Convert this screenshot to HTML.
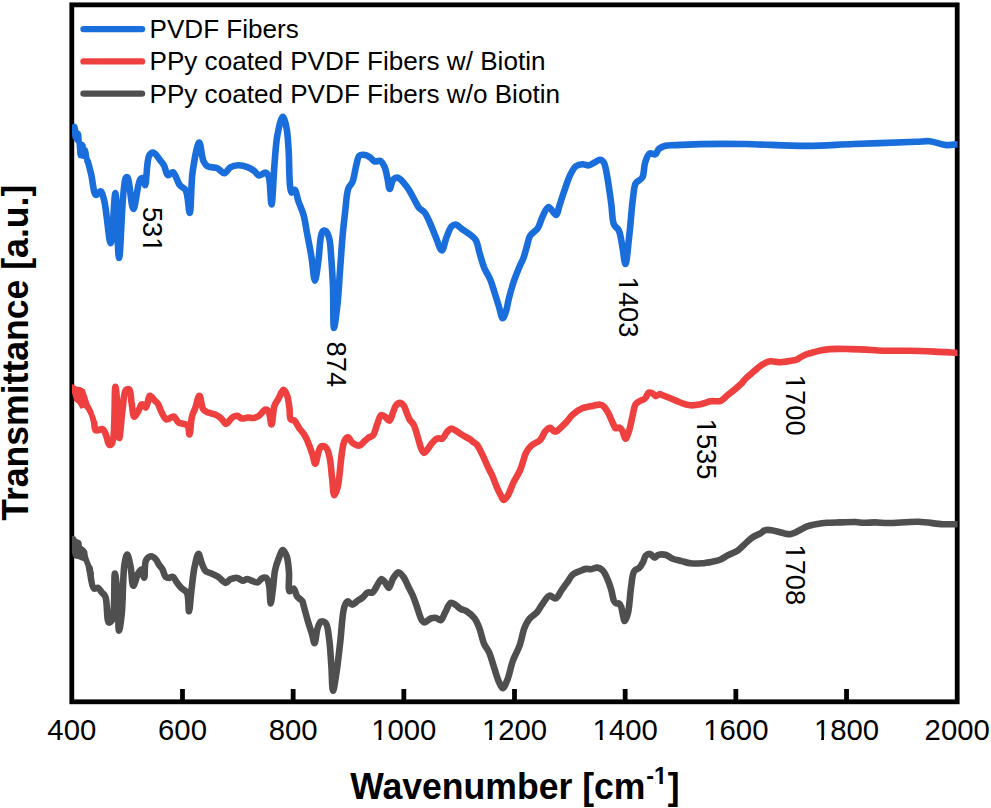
<!DOCTYPE html>
<html><head><meta charset="utf-8"><style>
html,body{margin:0;padding:0;background:#fff;}
body{width:991px;height:808px;overflow:hidden;}
svg{display:block;}
text{font-family:"Liberation Sans",sans-serif;}
.tk{font-size:29.3px;}
.lg{font-size:26.1px;}
.an{font-size:27.3px;}
.ax{font-size:35.6px;font-weight:bold;}
</style></head><body>
<svg width="991" height="808" viewBox="0 0 991 808">
<rect width="991" height="808" fill="#fff"/>
<rect x="71.80" y="4.85" width="885.40" height="696.95" fill="none" stroke="#000" stroke-width="4.8"/>
<line x1="182.48" y1="701.80" x2="182.48" y2="689" stroke="#000" stroke-width="4.8"/><line x1="293.15" y1="701.80" x2="293.15" y2="689" stroke="#000" stroke-width="4.8"/><line x1="403.83" y1="701.80" x2="403.83" y2="689" stroke="#000" stroke-width="4.8"/><line x1="514.50" y1="701.80" x2="514.50" y2="689" stroke="#000" stroke-width="4.8"/><line x1="625.17" y1="701.80" x2="625.17" y2="689" stroke="#000" stroke-width="4.8"/><line x1="735.85" y1="701.80" x2="735.85" y2="689" stroke="#000" stroke-width="4.8"/><line x1="846.53" y1="701.80" x2="846.53" y2="689" stroke="#000" stroke-width="4.8"/>
<defs><clipPath id="pc"><rect x="71.5" y="0" width="886.1" height="808"/></clipPath></defs>
<g clip-path="url(#pc)">
<g fill="none" stroke-linejoin="round" stroke-linecap="round" stroke-width="6.6">
<path d="M89.5,568.0 C90.2,571.4 91.3,586.8 93.9,588.5 C95.0,589.3 96.7,587.4 97.9,587.8 C99.4,588.4 100.7,591.1 102.0,592.6 C103.2,594.0 104.5,594.5 105.4,596.7 C107.5,601.5 106.5,621.6 108.8,622.5 C109.7,622.9 111.3,621.6 112.2,619.8 C115.2,613.9 113.8,573.5 114.9,573.5 C115.7,573.5 117.0,589.2 117.7,598.0 C118.5,608.1 118.1,630.6 119.0,630.7 C119.7,630.7 120.9,621.4 121.7,614.4 C123.0,602.2 122.8,574.1 124.5,564.0 C125.3,559.5 126.3,554.5 127.2,554.5 C128.3,554.5 129.6,562.1 130.6,566.7 C131.8,572.3 131.8,585.6 133.3,585.8 C134.5,585.9 136.4,576.4 138.1,573.5 C139.2,571.7 140.6,569.3 141.5,569.5 C142.7,569.7 143.5,577.7 144.2,577.6 C145.2,577.5 144.1,563.6 146.1,560.1 C147.3,558.0 149.4,556.3 151.1,556.2 C152.6,556.1 154.3,557.7 155.6,559.0 C157.0,560.4 157.7,562.8 158.9,564.5 C160.0,566.1 161.3,567.2 162.3,569.0 C163.6,571.2 164.1,575.4 165.6,576.8 C166.6,577.7 167.8,577.9 169.0,577.9 C170.3,577.9 171.7,576.4 172.9,576.8 C174.4,577.3 175.4,580.6 176.8,582.4 C178.2,584.3 179.5,586.2 181.2,587.9 C182.9,589.6 185.5,590.0 186.8,592.4 C189.0,596.3 188.3,611.3 189.0,611.3 C189.7,611.3 190.4,599.2 191.2,592.4 C192.2,584.5 193.1,573.8 194.6,566.8 C195.7,561.7 197.2,553.9 198.5,553.9 C199.6,553.9 200.5,560.4 201.8,563.4 C203.0,566.2 203.9,569.5 205.7,571.2 C207.2,572.6 209.4,572.5 211.3,573.4 C213.5,574.4 215.8,575.4 218.0,576.8 C220.6,578.4 223.7,582.9 225.8,582.9 C227.3,582.9 228.4,580.3 229.7,579.6 C230.7,579.0 231.7,578.8 232.8,578.5 C234.1,578.2 235.8,577.6 237.3,577.9 C239.1,578.2 241.0,580.6 242.8,580.7 C244.4,580.8 245.7,579.0 247.3,579.0 C249.0,579.0 251.0,580.6 252.8,581.2 C254.5,581.7 256.4,582.8 257.9,582.4 C259.4,582.0 260.3,579.2 261.8,578.5 C263.1,577.8 265.1,577.2 266.2,577.9 C267.7,578.7 268.3,581.7 269.0,584.6 C270.1,589.2 270.0,603.5 270.7,603.5 C271.3,603.5 272.2,594.2 272.9,589.0 C273.7,583.1 274.0,575.5 275.1,570.1 C276.0,565.9 277.1,562.5 278.5,559.0 C279.8,555.8 281.4,550.1 282.9,550.0 C284.2,550.0 285.8,553.9 286.8,556.7 C288.2,560.7 288.5,566.8 289.0,572.3 C289.5,578.3 287.8,590.4 289.6,591.3 C290.5,591.7 292.4,588.2 293.5,588.5 C295.1,588.9 295.8,594.6 297.4,596.8 C298.8,598.7 301.3,599.5 302.4,601.3 C303.4,603.0 303.3,604.7 304.0,607.0 C305.0,610.7 306.6,616.8 308.0,621.5 C309.3,625.9 310.9,630.5 312.1,634.4 C313.0,637.6 313.7,643.2 314.5,643.2 C315.6,643.2 316.3,631.8 317.7,627.9 C318.6,625.2 319.4,622.1 320.9,621.5 C322.2,621.0 324.5,621.7 325.8,623.1 C327.9,625.5 328.1,631.9 329.0,637.6 C330.2,645.6 330.7,657.4 331.4,666.6 C332.0,675.0 332.0,690.6 333.0,690.7 C333.8,690.8 335.2,680.9 336.2,674.6 C337.6,665.7 338.9,653.4 340.2,642.4 C341.6,630.9 342.1,613.6 344.3,607.0 C345.2,604.2 346.1,601.7 347.5,601.4 C348.8,601.1 350.6,604.6 352.3,604.6 C354.1,604.6 356.1,601.8 357.9,600.6 C359.6,599.5 361.2,598.7 362.8,597.4 C364.5,596.0 365.8,593.2 367.6,592.5 C369.1,591.9 370.9,593.3 372.4,592.5 C374.6,591.3 376.6,585.9 378.3,583.4 C379.5,581.6 380.5,579.1 381.7,579.0 C382.8,578.9 383.9,581.0 385.0,582.3 C386.3,583.9 387.7,588.0 388.9,587.9 C390.3,587.8 391.2,581.7 392.8,579.0 C394.4,576.5 396.5,572.4 398.4,572.3 C400.2,572.2 402.4,575.6 404.0,577.8 C405.8,580.3 406.9,583.8 408.4,586.8 C409.9,589.8 411.5,592.5 412.9,595.7 C414.5,599.4 415.8,603.8 417.3,607.9 C418.8,612.0 420.1,617.9 421.8,620.2 C422.7,621.4 423.5,622.3 424.6,622.4 C426.2,622.5 428.6,619.2 430.7,618.5 C432.5,617.9 434.6,617.6 436.3,617.9 C437.9,618.2 439.4,620.6 440.7,620.2 C442.5,619.7 443.6,615.1 445.2,612.4 C446.9,609.4 448.6,603.6 450.7,602.9 C452.1,602.4 453.7,603.7 455.2,604.6 C457.0,605.6 458.8,607.9 460.8,609.0 C462.6,610.0 464.5,609.9 466.4,611.1 C469.0,612.7 472.3,615.5 474.5,618.3 C476.6,621.1 477.8,624.3 479.3,628.0 C481.1,632.6 482.3,639.8 484.2,644.1 C485.6,647.3 487.6,648.9 489.0,652.1 C490.9,656.1 492.2,661.8 493.8,666.6 C495.4,671.4 496.9,677.2 498.6,681.1 C499.9,684.0 501.3,688.3 502.7,688.3 C504.2,688.3 506.0,683.1 507.5,679.5 C509.6,674.4 510.9,666.1 513.1,660.2 C515.0,654.9 517.8,650.9 519.6,645.7 C521.6,640.2 522.5,632.8 524.4,628.0 C525.8,624.4 527.1,621.7 529.2,619.1 C531.4,616.4 535.1,614.5 537.3,611.9 C539.3,609.6 540.2,607.1 542.1,604.6 C544.2,601.7 546.9,596.3 549.5,595.7 C551.5,595.2 553.7,598.9 555.6,598.4 C557.9,597.8 559.7,592.8 561.7,590.1 C563.6,587.5 565.4,584.9 567.3,582.3 C569.1,579.7 570.6,576.4 572.8,574.5 C574.7,572.8 577.2,572.1 579.5,571.2 C581.7,570.3 584.2,569.1 586.2,568.9 C587.8,568.7 588.9,569.4 590.5,569.3 C592.5,569.1 595.3,567.4 597.4,567.6 C599.3,567.8 601.1,568.9 602.6,570.3 C604.4,572.0 605.5,574.8 606.8,577.6 C608.4,581.0 609.9,585.3 611.1,589.2 C612.3,593.1 612.7,598.6 614.0,601.0 C614.7,602.3 615.6,603.1 616.5,603.5 C617.3,603.8 618.5,603.1 619.2,603.5 C620.1,604.0 620.7,605.6 621.2,607.0 C622.0,609.0 622.2,612.1 622.8,614.5 C623.4,616.8 623.9,621.0 624.7,621.0 C625.6,621.0 627.0,616.8 627.9,613.4 C629.5,607.3 629.9,594.7 631.1,587.1 C632.0,581.1 632.1,574.5 634.2,571.3 C635.5,569.3 638.0,569.1 639.5,567.6 C641.0,566.0 642.1,563.8 643.2,561.8 C644.2,559.8 644.5,556.8 645.8,555.5 C646.9,554.4 648.6,553.7 650.0,553.9 C651.6,554.1 653.2,557.6 654.7,557.6 C656.0,557.6 656.8,555.4 658.4,554.9 C660.4,554.3 663.7,554.3 666.1,555.0 C668.5,555.7 670.3,557.8 672.7,558.8 C675.4,559.9 678.6,560.3 681.6,561.1 C684.6,561.8 687.3,562.9 690.5,563.3 C694.0,563.7 697.9,563.6 701.6,563.3 C705.3,563.0 709.5,562.2 712.7,561.6 C715.2,561.1 717.1,560.9 719.4,560.0 C722.2,558.9 725.1,556.8 728.1,555.2 C731.2,553.6 735.0,552.3 737.8,550.4 C740.3,548.7 741.9,546.7 744.2,544.7 C746.7,542.4 749.5,539.3 752.3,537.4 C754.9,535.6 758.1,534.7 760.4,533.4 C762.2,532.3 763.4,530.7 765.2,530.2 C767.1,529.6 769.6,529.9 771.7,530.2 C773.9,530.5 776.0,531.3 778.1,531.8 C780.3,532.3 782.5,533.0 784.6,533.4 C786.5,533.8 788.3,534.4 790.2,534.2 C792.1,534.0 794.1,533.0 795.9,532.2 C797.7,531.4 799.2,530.4 801.0,529.5 C802.9,528.5 804.7,527.3 807.1,526.4 C810.1,525.3 814.2,524.6 817.6,524.0 C820.9,523.4 823.9,523.1 827.3,522.8 C831.1,522.5 835.1,522.5 839.4,522.4 C844.4,522.3 851.1,521.8 855.5,522.0 C858.7,522.1 860.7,522.7 863.6,522.8 C867.1,522.9 871.0,522.4 875.0,522.4 C879.3,522.4 883.0,523.0 888.4,523.0 C896.5,523.0 909.2,521.5 918.7,521.8 C927.2,522.1 935.6,523.8 942.9,524.2 C948.8,524.5 956.3,524.2 959.0,524.2" stroke="#4f4f4f"/>
<path d="M94.2,423.0 C94.4,424.2 94.5,429.3 95.6,430.2 C96.2,430.7 97.2,430.3 98.1,430.2 C99.4,430.0 101.3,428.6 102.5,429.1 C104.0,429.7 104.9,432.4 105.9,434.6 C107.2,437.4 107.7,444.0 109.2,444.7 C110.0,445.1 111.2,444.6 112.0,443.5 C115.5,438.5 114.2,386.7 115.4,386.7 C116.1,386.7 117.0,401.1 117.6,409.0 C118.3,418.0 118.5,438.0 119.3,438.0 C120.1,438.0 121.4,417.6 122.6,409.0 C123.6,402.0 123.7,392.2 125.9,390.0 C126.8,389.1 128.4,388.9 129.3,389.5 C131.0,390.7 130.7,397.9 131.5,402.3 C132.4,407.0 132.8,416.5 134.3,416.8 C135.3,417.0 137.0,413.2 138.2,411.2 C139.4,409.1 140.4,405.1 141.5,404.5 C142.0,404.2 142.5,404.4 143.0,404.7 C143.9,405.1 145.0,407.8 145.9,407.6 C147.5,407.2 148.2,396.1 149.9,395.7 C151.1,395.4 152.6,398.4 153.9,399.7 C155.2,401.0 156.6,402.0 157.8,403.7 C159.4,406.0 160.2,409.9 161.8,412.6 C163.2,415.1 164.6,418.9 166.7,419.5 C168.7,420.0 171.7,416.0 173.7,416.5 C175.7,417.0 176.7,421.3 178.6,422.5 C180.1,423.5 182.0,423.5 183.6,424.0 C185.0,424.5 186.5,424.3 187.5,425.4 C188.9,427.0 188.9,434.4 189.5,434.4 C190.4,434.4 190.7,421.4 192.0,416.5 C192.9,413.0 194.3,410.8 195.4,407.6 C196.7,403.9 198.1,395.7 199.4,395.7 C200.8,395.7 201.3,406.8 203.4,409.6 C204.7,411.3 206.5,411.8 208.3,412.6 C210.3,413.5 213.0,413.6 215.2,414.6 C217.3,415.6 219.4,416.9 221.2,418.5 C223.0,420.1 224.6,424.0 226.1,424.0 C227.3,424.0 228.5,421.7 229.6,420.5 C230.7,419.3 231.5,417.8 232.9,417.0 C234.3,416.2 236.4,415.7 237.9,416.0 C239.3,416.3 240.3,418.2 241.8,418.5 C243.5,418.9 245.8,417.6 247.8,417.5 C249.8,417.4 251.8,418.3 253.7,418.0 C255.5,417.7 257.0,417.1 258.7,416.0 C260.9,414.6 263.7,409.8 265.6,409.6 C266.8,409.5 267.8,410.4 268.6,411.6 C270.2,413.9 270.6,424.5 271.5,424.5 C272.6,424.5 272.9,410.2 274.5,405.6 C275.6,402.6 277.1,401.2 278.5,398.7 C280.1,395.9 281.8,389.9 283.4,389.8 C284.6,389.7 286.0,392.6 286.9,394.8 C288.3,398.0 288.7,403.4 289.4,407.6 C290.0,411.6 289.3,417.7 290.8,419.5 C291.6,420.5 293.2,419.7 294.3,420.5 C296.1,421.8 297.6,426.0 299.3,428.4 C300.9,430.6 302.9,432.3 304.2,434.4 C305.4,436.3 306.1,437.9 307.2,440.3 C308.8,444.0 311.1,450.1 312.5,454.4 C313.6,457.9 314.3,463.9 315.2,463.9 C316.3,463.9 317.4,454.9 318.6,451.7 C319.5,449.5 319.9,446.9 321.3,446.3 C322.5,445.7 324.8,446.4 326.1,447.6 C327.9,449.3 328.6,453.2 329.5,457.1 C330.9,462.8 331.3,472.2 332.2,478.9 C332.9,484.7 333.1,495.0 334.3,495.2 C335.2,495.3 336.7,490.8 337.7,487.1 C339.6,479.9 340.3,462.9 341.7,454.4 C342.6,448.9 342.9,443.7 344.5,440.8 C345.4,439.1 346.7,437.4 347.9,437.4 C349.4,437.5 350.7,441.5 352.6,442.9 C354.5,444.3 357.3,446.0 359.4,445.6 C361.4,445.2 363.2,442.3 364.9,440.8 C366.4,439.6 367.6,438.3 369.0,437.4 C370.3,436.6 371.9,436.7 373.0,435.4 C374.9,433.3 375.7,428.0 377.1,424.5 C378.4,421.2 379.4,415.7 381.2,415.0 C382.3,414.6 383.8,415.9 385.0,416.7 C386.5,417.7 388.2,421.0 389.4,420.7 C390.9,420.4 391.8,415.4 392.9,412.8 C393.9,410.4 394.5,407.5 395.8,405.8 C396.9,404.4 398.5,402.9 399.8,402.9 C401.1,402.9 402.7,404.4 403.8,405.8 C405.1,407.5 405.7,410.5 406.7,412.8 C407.7,415.1 408.5,417.7 409.7,419.7 C410.8,421.6 412.5,422.6 413.7,424.7 C415.3,427.7 416.3,432.5 417.6,436.5 C418.9,440.7 420.2,446.5 421.6,449.4 C422.4,451.0 423.2,452.8 424.1,452.9 C425.1,453.0 426.3,450.8 427.5,449.4 C429.1,447.5 430.7,444.4 432.5,442.5 C434.0,440.9 435.6,439.1 437.4,438.5 C439.0,437.9 440.9,439.3 442.4,438.5 C444.3,437.5 445.6,433.3 447.3,431.6 C448.6,430.3 449.8,428.7 451.3,428.6 C453.0,428.4 455.3,430.5 457.2,431.6 C459.2,432.8 461.1,434.2 463.2,435.5 C465.5,436.9 468.8,438.4 470.4,439.5 C471.3,440.1 471.4,440.6 472.2,441.2 C473.3,442.2 475.3,442.9 476.7,444.5 C478.7,446.8 480.5,451.0 482.3,454.5 C484.2,458.3 486.0,463.1 487.8,466.8 C489.3,470.0 490.9,472.5 492.3,475.7 C493.9,479.2 495.2,483.4 496.7,486.8 C498.0,489.8 499.3,492.6 500.6,495.0 C501.6,496.9 502.4,499.9 503.6,500.0 C504.8,500.1 506.3,497.7 507.6,495.8 C509.7,492.7 511.4,486.7 513.5,482.4 C515.6,478.2 518.4,474.1 520.1,470.1 C521.6,466.7 522.5,463.1 523.5,460.1 C524.4,457.5 524.7,455.3 525.9,453.0 C527.2,450.5 529.0,447.7 531.3,445.6 C533.7,443.3 537.9,442.4 540.2,440.0 C542.5,437.6 543.4,433.4 545.3,431.3 C546.8,429.7 548.6,427.8 550.1,427.9 C551.5,428.0 553.0,430.9 554.2,431.3 C555.0,431.6 555.6,431.6 556.4,431.3 C557.5,430.9 558.7,429.6 560.0,428.4 C561.8,426.8 564.0,424.6 566.1,422.4 C568.4,419.9 570.4,416.6 573.1,414.3 C575.8,411.9 579.1,409.6 582.2,408.3 C584.9,407.1 587.4,406.9 590.3,406.3 C593.5,405.7 598.0,404.3 600.4,404.7 C601.9,404.9 602.7,405.5 603.8,406.5 C605.4,407.9 606.9,410.7 608.4,413.3 C610.2,416.5 612.2,421.8 613.5,424.5 C614.3,426.1 614.5,427.7 615.5,428.2 C616.5,428.7 618.4,427.2 619.5,427.6 C620.6,428.0 621.4,429.2 622.2,430.5 C623.5,432.5 624.4,438.8 625.5,438.8 C626.6,438.8 627.9,434.1 629.0,431.0 C630.4,426.7 631.5,420.1 632.7,415.3 C633.7,411.3 634.0,406.6 635.7,404.2 C636.8,402.5 638.6,401.8 640.0,401.0 C641.2,400.3 642.5,400.1 643.5,399.5 C644.3,399.0 644.8,398.6 645.5,397.8 C646.6,396.6 647.4,393.2 648.8,392.6 C649.9,392.1 651.6,393.0 652.8,393.6 C654.0,394.2 654.8,396.0 655.9,396.1 C657.1,396.2 659.3,394.1 659.9,394.1 C660.1,394.1 660.0,394.1 660.2,394.2 C661.2,394.6 666.8,396.9 670.3,398.3 C674.2,399.9 678.7,402.1 682.4,403.3 C685.3,404.3 687.6,405.1 690.5,405.3 C693.6,405.5 697.2,405.0 700.5,404.3 C703.9,403.6 707.2,401.9 710.6,401.3 C713.9,400.7 717.8,401.9 720.7,400.8 C723.4,399.8 725.1,397.2 727.4,395.3 C729.8,393.4 732.6,391.3 734.9,389.4 C737.0,387.6 739.0,386.0 740.8,384.2 C742.5,382.5 743.6,380.7 745.3,379.0 C747.1,377.2 749.2,375.5 751.2,373.8 C753.2,372.1 755.1,370.2 757.1,368.6 C759.1,367.0 761.0,365.3 763.1,364.1 C765.2,362.9 767.3,361.7 769.8,361.3 C772.9,360.8 776.8,362.3 780.5,362.2 C784.4,362.1 789.7,361.2 792.7,360.6 C794.5,360.3 795.6,360.1 797.0,359.5 C798.4,358.9 799.6,357.8 801.0,357.0 C802.6,356.1 804.2,355.2 806.0,354.5 C807.9,353.8 809.8,353.4 812.0,352.8 C814.6,352.1 817.5,351.2 820.4,350.6 C823.6,349.9 826.5,349.4 830.5,349.1 C836.0,348.7 844.4,349.0 850.6,349.1 C856.0,349.2 860.6,349.3 865.8,349.6 C871.2,349.9 876.3,350.5 882.5,350.7 C890.3,351.0 900.0,350.6 908.7,350.7 C917.5,350.8 926.4,351.2 935.0,351.6 C943.2,352.0 955.0,352.8 959.0,353.0" stroke="#ef4040"/>
<path d="M87.7,161.0 C88.3,163.2 90.0,169.5 91.2,174.4 C92.7,180.5 93.5,194.1 95.9,194.9 C97.2,195.3 99.2,190.9 100.5,191.2 C102.2,191.6 103.0,196.2 104.2,200.5 C106.6,209.5 108.9,243.3 110.7,243.2 C112.7,243.1 114.1,193.0 115.4,193.0 C116.9,193.0 117.5,258.0 119.1,258.0 C120.8,258.0 122.0,183.5 125.6,178.2 C126.2,177.4 126.8,177.0 127.4,177.3 C129.7,178.5 131.2,209.0 133.4,209.0 C135.5,209.0 137.4,182.5 140.3,179.3 C141.2,178.3 142.5,177.9 143.3,178.3 C144.5,178.9 144.6,185.2 145.2,185.2 C146.5,185.1 146.5,160.1 149.2,155.5 C150.3,153.7 151.7,152.4 153.2,152.6 C155.5,152.9 159.1,159.1 161.1,161.5 C162.3,163.0 163.1,163.7 164.0,165.3 C165.4,167.8 166.0,174.6 167.9,175.2 C169.3,175.7 171.3,171.9 172.9,172.3 C175.4,173.0 177.3,182.0 179.8,185.1 C181.6,187.4 184.2,187.4 185.7,190.1 C188.3,194.7 188.6,213.0 189.7,212.9 C191.2,212.8 190.8,183.8 192.7,171.3 C194.3,160.8 197.2,142.6 199.2,142.6 C200.8,142.6 201.6,157.3 203.6,161.4 C204.7,163.7 205.6,165.2 207.5,166.3 C209.9,167.8 214.5,167.0 217.4,168.3 C220.1,169.5 222.2,173.5 224.4,173.3 C226.5,173.1 228.0,168.6 230.3,167.3 C232.6,166.0 235.4,165.4 238.2,165.3 C241.3,165.2 245.2,166.2 248.1,167.3 C250.6,168.2 252.6,169.7 254.5,171.1 C256.2,172.4 257.1,175.2 258.9,175.5 C260.8,175.9 263.9,172.2 265.6,172.6 C267.0,172.9 267.8,174.3 268.6,176.3 C270.6,181.2 270.6,204.5 271.5,204.5 C272.6,204.5 273.4,176.8 274.5,164.4 C275.4,153.8 275.8,143.3 277.5,134.7 C278.8,127.9 281.0,116.9 282.7,116.9 C284.0,116.9 285.5,123.1 286.4,127.3 C287.7,133.3 288.0,141.2 288.6,149.6 C289.3,160.4 289.1,179.7 290.1,186.7 C290.5,189.5 290.7,192.3 291.6,192.6 C292.3,192.8 293.7,189.5 294.6,189.7 C296.2,190.1 297.1,197.4 298.5,201.5 C300.1,206.0 302.3,210.5 303.7,215.5 C305.2,221.1 305.9,227.1 307.1,233.5 C308.5,240.9 310.2,249.3 311.5,257.2 C312.8,265.0 313.7,280.6 314.9,280.6 C316.0,280.6 317.4,267.7 318.4,260.7 C319.5,252.9 319.7,241.1 321.0,236.0 C321.6,233.6 322.0,231.7 323.0,231.0 C323.7,230.5 325.0,230.5 325.8,231.0 C327.2,231.9 328.3,235.1 329.2,238.1 C330.5,242.8 330.6,250.1 331.2,257.2 C331.9,266.0 332.5,276.0 333.0,286.7 C333.5,299.3 333.0,327.9 334.0,328.0 C334.8,328.0 336.5,312.7 337.5,304.0 C338.7,293.5 339.2,280.9 340.1,269.4 C341.0,257.8 341.7,245.2 342.7,234.7 C343.5,225.9 344.4,218.2 345.3,210.4 C346.2,203.0 346.4,194.2 348.2,189.0 C349.3,185.7 351.4,184.7 352.6,181.6 C354.3,177.3 355.0,169.9 356.3,165.2 C357.3,161.6 357.6,157.1 359.3,155.6 C360.4,154.6 362.1,154.7 363.7,154.8 C365.6,155.0 367.9,156.0 369.7,157.1 C371.6,158.2 373.0,161.0 374.9,161.5 C376.5,162.0 378.6,160.2 380.1,160.8 C381.9,161.6 383.3,164.3 384.5,166.7 C386.0,169.9 386.6,174.8 387.5,178.6 C388.3,182.2 388.7,188.9 389.7,189.0 C390.7,189.1 391.6,181.0 393.4,179.3 C394.6,178.1 396.3,177.4 397.9,177.8 C400.5,178.4 404.1,183.2 406.8,186.7 C409.8,190.5 412.4,196.2 414.6,200.1 C416.3,203.0 417.2,205.8 419.0,207.9 C420.6,209.8 422.9,210.4 424.6,212.5 C426.8,215.2 428.4,219.6 430.2,223.5 C432.1,227.7 433.8,232.4 435.7,236.9 C437.6,241.4 440.0,250.5 441.8,250.4 C443.6,250.3 444.9,241.2 446.6,237.0 C448.2,233.2 449.6,228.3 451.6,226.4 C452.9,225.2 454.4,224.4 455.9,224.6 C457.8,224.8 459.7,227.4 461.9,229.0 C464.5,230.9 468.1,233.0 470.6,235.0 C472.6,236.7 474.4,237.8 475.8,240.2 C477.8,243.6 478.5,249.8 480.0,254.5 C481.4,259.2 482.7,264.2 484.5,268.5 C486.1,272.3 488.4,275.2 490.0,279.0 C491.8,283.1 493.0,287.8 494.5,292.4 C496.0,297.1 497.6,302.4 499.0,306.9 C500.3,310.9 501.4,318.2 502.7,318.3 C503.7,318.4 504.9,314.6 505.8,312.0 C507.1,308.3 507.8,302.8 509.0,298.0 C510.3,292.9 511.8,287.4 513.5,282.3 C515.1,277.4 517.2,272.3 519.0,267.9 C520.5,264.2 522.2,261.3 523.5,257.8 C524.8,254.2 525.7,250.4 526.8,246.7 C527.9,243.0 528.2,238.9 530.1,235.8 C531.9,232.7 535.9,231.1 537.9,228.0 C540.0,224.8 540.6,220.4 542.4,216.9 C544.2,213.4 546.2,207.3 548.5,207.0 C550.8,206.8 554.4,215.4 556.2,215.0 C557.9,214.6 558.1,209.5 559.3,206.1 C560.9,201.4 562.9,194.8 564.8,189.4 C566.6,184.3 568.3,178.6 570.4,174.5 C572.1,171.2 573.7,167.9 576.0,166.2 C577.9,164.8 580.3,164.4 582.5,164.3 C584.7,164.2 587.0,165.6 589.0,165.3 C591.0,165.0 592.7,163.4 594.5,162.5 C596.4,161.6 598.5,159.5 600.1,159.7 C601.5,159.8 602.8,160.9 603.8,162.5 C605.7,165.5 606.4,172.4 607.5,178.3 C608.9,185.8 610.2,196.1 611.3,204.2 C612.3,211.4 612.0,220.2 614.0,224.7 C615.2,227.4 617.4,227.7 618.7,230.2 C620.6,234.1 621.3,241.3 622.4,246.9 C623.5,252.6 624.4,264.0 625.4,264.0 C626.7,264.0 628.1,245.3 629.3,235.1 C630.7,223.5 631.6,207.6 633.0,198.0 C633.9,191.9 633.8,186.6 635.8,183.1 C637.3,180.4 640.8,180.2 642.3,177.5 C644.3,174.0 643.7,167.0 645.1,162.7 C646.3,159.1 647.6,154.5 649.7,153.4 C651.3,152.6 653.8,155.0 655.3,154.3 C656.9,153.6 657.4,150.2 659.0,148.8 C660.5,147.5 662.3,146.6 664.5,146.0 C667.5,145.1 671.3,145.4 675.7,145.1 C682.2,144.7 690.5,144.3 699.8,144.1 C712.4,143.8 728.3,143.8 744.5,144.0 C763.6,144.3 787.9,146.0 807.2,145.9 C823.8,145.8 836.9,144.6 853.5,144.0 C872.8,143.3 902.9,142.3 916.2,141.8 C922.4,141.6 925.1,140.8 929.8,141.3 C935.0,141.8 941.0,144.7 946.1,145.1 C950.6,145.4 956.9,144.2 959.0,144.0" stroke="#1a6edb"/>
</g>
<path d="M72.2,535.8 L75.2,536.4 L76.9,538.9 L80.2,540.3 L81.6,542.2 L81.9,546.1 L84.7,547.8 L87.2,551.1 L88.0,556.2 L89.1,559.5 L91.4,565.6 L93.6,572.3 L94.2,575.0 L87.5,575.0 L85.3,565.6 L83.6,561.2 L80.8,560.3 L78.0,558.9 L74.7,558.4 L73.0,556.7 L71.9,552.3 L71.9,536.1Z" fill="#4f4f4f"/>
<path d="M72.0,384.0 L77.3,386.8 L80.4,387.1 L84.7,389.2 L86.6,394.8 L89.7,404.1 L92.8,409.7 L95.9,418.3 L97.1,424.5 L91.5,424.5 L89.1,415.9 L86.6,410.9 L84.1,407.8 L80.4,408.7 L77.9,404.1 L74.2,401.0 L72.0,393.0Z" fill="#ef4040"/>
<path d="M72.5,124.1 L74.7,123.6 L76.9,124.7 L78.0,127.5 L78.3,130.2 L80.2,131.4 L81.4,134.1 L81.9,141.4 L84.1,142.5 L85.8,144.7 L85.8,146.9 L87.5,148.3 L88.6,151.4 L89.4,157.0 L90.8,163.0 L84.7,163.0 L84.1,159.2 L81.4,158.6 L78.6,158.1 L77.2,154.7 L76.9,149.2 L76.3,143.0 L74.7,141.4 L72.5,138.0 L71.9,134.7 L71.9,126.3Z" fill="#1a6edb"/>
</g>

<g transform="translate(71.80,740) scale(1,1.02)"><text text-anchor="middle" class="tk">400</text></g><g transform="translate(182.48,740) scale(1,1.02)"><text text-anchor="middle" class="tk">600</text></g><g transform="translate(293.15,740) scale(1,1.02)"><text text-anchor="middle" class="tk">800</text></g><g transform="translate(403.83,740) scale(1,1.02)"><text text-anchor="middle" class="tk">1000</text><rect x="-31.02" y="-3.19" width="5.69" height="4.19" fill="#fff"/><rect x="-22.53" y="-3.19" width="5.49" height="4.19" fill="#fff"/></g><g transform="translate(514.50,740) scale(1,1.02)"><text text-anchor="middle" class="tk">1200</text><rect x="-31.02" y="-3.19" width="5.69" height="4.19" fill="#fff"/><rect x="-22.53" y="-3.19" width="5.49" height="4.19" fill="#fff"/></g><g transform="translate(625.17,740) scale(1,1.02)"><text text-anchor="middle" class="tk">1400</text><rect x="-31.02" y="-3.19" width="5.69" height="4.19" fill="#fff"/><rect x="-22.53" y="-3.19" width="5.49" height="4.19" fill="#fff"/></g><g transform="translate(735.85,740) scale(1,1.02)"><text text-anchor="middle" class="tk">1600</text><rect x="-31.02" y="-3.19" width="5.69" height="4.19" fill="#fff"/><rect x="-22.53" y="-3.19" width="5.49" height="4.19" fill="#fff"/></g><g transform="translate(846.53,740) scale(1,1.02)"><text text-anchor="middle" class="tk">1800</text><rect x="-31.02" y="-3.19" width="5.69" height="4.19" fill="#fff"/><rect x="-22.53" y="-3.19" width="5.49" height="4.19" fill="#fff"/></g><g transform="translate(957.20,740) scale(1,1.02)"><text text-anchor="middle" class="tk">2000</text></g>
<g stroke-width="6.4" stroke-linecap="round">
<line x1="83.5" y1="29.1" x2="142" y2="29.1" stroke="#1a6edb"/>
<line x1="83.5" y1="61.4" x2="142" y2="61.4" stroke="#ef4040"/>
<line x1="83.5" y1="93.6" x2="142" y2="93.6" stroke="#4f4f4f"/>
</g>
<g transform="translate(149.5,37.8) scale(1,1.02)"><text class="lg">PVDF Fibers</text></g>
<g transform="translate(149.5,70.2) scale(1,1.02)"><text class="lg">PPy coated PVDF Fibers w/ Biotin</text></g>
<g transform="translate(149.5,103.1) scale(1,1.02)"><text class="lg">PPy coated PVDF Fibers w/o Biotin</text></g>
<g transform="translate(143.0,229.7) rotate(90) scale(1,1.02)"><text class="an" text-anchor="middle">531</text><rect x="9.06" y="-3.04" width="5.30" height="4.04" fill="#fff"/><rect x="16.97" y="-3.04" width="5.12" height="4.04" fill="#fff"/></g>
<g transform="translate(326.8,364.35) rotate(90) scale(1,1.02)"><text class="an" text-anchor="middle">874</text></g>
<g transform="translate(619.3,307.1) rotate(90) scale(1,1.02)"><text class="an" text-anchor="middle">1403</text><rect x="-28.90" y="-3.04" width="5.30" height="4.04" fill="#fff"/><rect x="-20.99" y="-3.04" width="5.12" height="4.04" fill="#fff"/></g>
<g transform="translate(696.7,449.1) rotate(90) scale(1,1.02)"><text class="an" text-anchor="middle">1535</text><rect x="-28.90" y="-3.04" width="5.30" height="4.04" fill="#fff"/><rect x="-20.99" y="-3.04" width="5.12" height="4.04" fill="#fff"/></g>
<g transform="translate(786.3,405.2) rotate(90) scale(1,1.02)"><text class="an" text-anchor="middle">1700</text><rect x="-28.90" y="-3.04" width="5.30" height="4.04" fill="#fff"/><rect x="-20.99" y="-3.04" width="5.12" height="4.04" fill="#fff"/></g>
<g transform="translate(786.3,574.8) rotate(90) scale(1,1.02)"><text class="an" text-anchor="middle">1708</text><rect x="-28.90" y="-3.04" width="5.30" height="4.04" fill="#fff"/><rect x="-20.99" y="-3.04" width="5.12" height="4.04" fill="#fff"/></g>
<g transform="translate(514.9,798.6) scale(1,1.02)"><text class="ax" text-anchor="middle">Wavenumber [cm<tspan dy="-14.3" font-size="23.5px" dx="0.8">-1</tspan><tspan dy="14.3" dx="0.6">]</tspan></text><rect x="140.33" y="-17.70" width="4.24" height="4.40" fill="#fff"/><rect x="147.99" y="-17.70" width="4.03" height="4.40" fill="#fff"/></g>
<g transform="translate(28.3,352.8) rotate(-90) scale(1,1.02)"><text class="ax" text-anchor="middle">Transmittance [a.u.]</text></g>
</svg>
</body></html>
